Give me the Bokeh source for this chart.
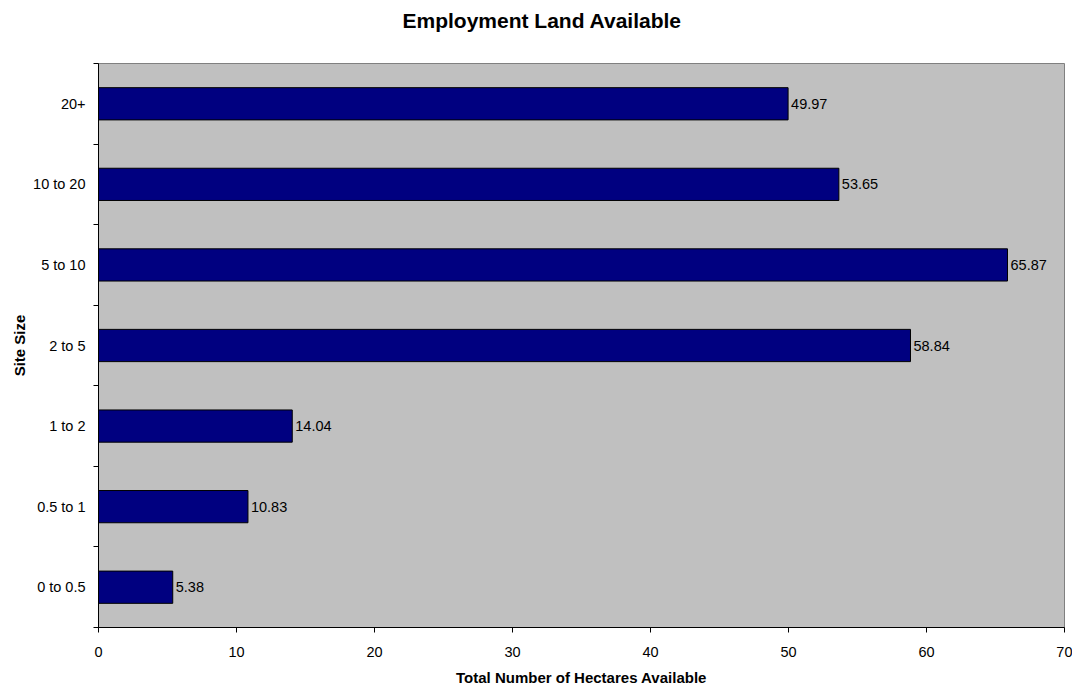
from bokeh.plotting import figure
from bokeh.models import ColumnDataSource, FixedTicker, Range1d, LabelSet
from bokeh.core.properties import value
from bokeh.embed import file_html
from bokeh.resources import INLINE

categories = ["0 to 0.5", "0.5 to 1", "1 to 2", "2 to 5", "5 to 10", "10 to 20", "20+"]
hectares = [5.38, 10.83, 14.04, 58.84, 65.87, 53.65, 49.97]
x_ticks = [0, 10, 20, 30, 40, 50, 60, 70]
title_text = "Employment Land Available"

FONT = "Liberation Sans"
TICK_SIZE = "14.5px"
AXIS_LABEL_SIZE = "15px"

pos = [i + 0.5 for i in range(len(categories))]
src = ColumnDataSource(dict(
    y=pos,
    right=hectares,
    label=[f"{v:.2f}" for v in hectares],
))

p = figure(width=1072, height=688, output_backend="svg", toolbar_location=None,
           x_range=Range1d(0, 70), y_range=Range1d(0, len(categories)),
           min_border_left=98, min_border_right=8, min_border_top=63, min_border_bottom=61,
           title=title_text + "\n ")

p.background_fill_color = "#C0C0C0"
p.border_fill_color = "white"
p.outline_line_color = "#808080"
p.outline_line_width = 1
p.grid.visible = False

p.hbar(y="y", left=0, right="right", height=0.4, source=src,
       fill_color="#000080", line_color="black", line_width=1)

labels = LabelSet(x="right", y="y", text="label", source=src, x_offset=3,
                  text_baseline="middle", text_font=value(FONT), text_font_size=TICK_SIZE,
                  text_color="black")
p.add_layout(labels)

# title
p.title.text_font = FONT
p.title.text_font_size = "21px"
p.title.text_font_style = "bold"
p.title.text_color = "black"
p.title.text_line_height = 1.25
p.title.align = "left"
p.title.offset = 304
p.title.standoff = 5

# x axis
p.xaxis.ticker = FixedTicker(ticks=x_ticks, minor_ticks=[])
p.xaxis.axis_label = "Total Number of Hectares Available"
p.xaxis.axis_label_text_font = FONT
p.xaxis.axis_label_text_font_size = AXIS_LABEL_SIZE
p.xaxis.axis_label_text_font_style = "bold"
p.xaxis.axis_label_text_color = "black"
p.xaxis.axis_label_standoff = 9
p.xaxis.major_label_text_font = FONT
p.xaxis.major_label_text_font_size = TICK_SIZE
p.xaxis.major_label_text_color = "black"
p.xaxis.major_label_standoff = 14
p.xaxis.major_tick_in = 0
p.xaxis.major_tick_out = 5
p.xaxis.major_tick_line_color = "black"
p.xaxis.axis_line_color = "black"

# y axis
p.yaxis.ticker = FixedTicker(ticks=pos, minor_ticks=list(range(len(categories) + 1)))
p.yaxis.major_label_overrides = {pv: c for pv, c in zip(pos, categories)}
p.yaxis.axis_label = "Site Size"
p.yaxis.axis_label_text_font = FONT
p.yaxis.axis_label_text_font_size = AXIS_LABEL_SIZE
p.yaxis.axis_label_text_font_style = "bold"
p.yaxis.axis_label_text_color = "black"
p.yaxis.axis_label_standoff = 2
p.yaxis.major_label_text_font = FONT
p.yaxis.major_label_text_font_size = TICK_SIZE
p.yaxis.major_label_text_color = "black"
p.yaxis.major_label_standoff = 8
p.yaxis.major_tick_in = 0
p.yaxis.major_tick_out = 0
p.yaxis.minor_tick_in = 0
p.yaxis.minor_tick_out = 5
p.yaxis.minor_tick_line_color = "black"
p.yaxis.axis_line_color = "black"

open("out.html", "w").write(file_html(p, INLINE))
